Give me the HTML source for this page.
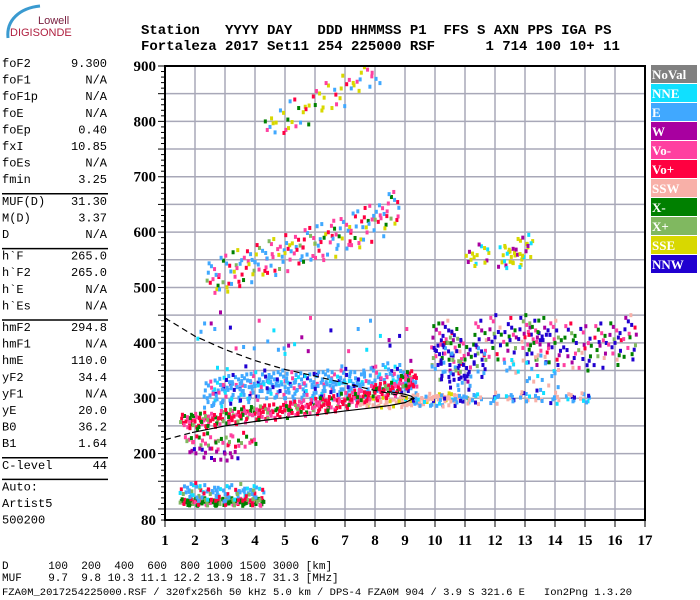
<!DOCTYPE html>
<html><head><meta charset="utf-8"><style>
html,body{margin:0;padding:0;background:#fff;width:700px;height:600px;overflow:hidden}
svg{display:block}
.mono{font-family:"Liberation Mono",monospace;font-size:12px;fill:#000}
.hdr{font-family:"Liberation Mono",monospace;font-size:14px;font-weight:bold;fill:#000}
.tick{font-family:"Liberation Serif",serif;font-size:15px;font-weight:bold;fill:#000}
.leg{font-family:"Liberation Serif",serif;font-size:13px;font-weight:bold;fill:#fff}
</style></head><body>
<svg id="chart" width="700" height="600" viewBox="0 0 700 600">
<g>
<path d="M8,38 C6,20 20,8 40,6" stroke="#3a9ad0" stroke-width="3" fill="none"/>
<text x="38" y="24" style="font-family:'Liberation Sans',sans-serif;font-size:11px;fill:#7a2040">Lowell</text>
<text x="10" y="36" style="font-family:'Liberation Sans',sans-serif;font-size:11px;fill:#b02040">DIGISONDE</text>
</g>
<g>
<text class="hdr" x="141" y="34" xml:space="preserve">Station   YYYY DAY   DDD HHMMSS P1  FFS S AXN PPS IGA PS</text>
<text class="hdr" x="141" y="50" xml:space="preserve">Fortaleza 2017 Set11 254 225000 RSF      1 714 100 10+ 11</text>
</g>
<g id="params"></g>
<g id="grid"></g>
<g id="marks"></g>
<g id="curves"></g>
<g id="axes"></g>
<g id="legend"></g>
<g>
<text class="mono" x="2" y="569" xml:space="preserve" style="font-size:11px">D      100  200  400  600  800 1000 1500 3000 [km]</text>
<text class="mono" x="2" y="581" xml:space="preserve" style="font-size:11px">MUF    9.7  9.8 10.3 11.1 12.2 13.9 18.7 31.3 [MHz]</text>
<text class="mono" x="2" y="595" xml:space="preserve" style="font-size:10.5px">FZA0M_2017254225000.RSF / 320fx256h 50 kHz 5.0 km / DPS-4 FZA0M 904 / 3.9 S 321.6 E   Ion2Png 1.3.20</text>
</g>
</svg>
<script>
const xTicks=[1,2,3,4,5,6,7,8,9,10,11,12,13,14,15,16,17];
const yTicks=[80,200,300,400,500,600,700,800,900];
const yGrid=[100,150,200,250,300,350,400,450,500,550,600,650,700,750,800,850];
const legendNames=["NoVal","NNE","E","W","Vo-","Vo+","SSW","X-","X+","SSE","NNW"];
const legendColors=["#808080","#10e0ff","#40a8ff","#a800a0","#ff40a0","#ff0040","#f8b0a8","#008000","#80b860","#d8d800","#2000d0"];
const paramNames=["foF2","foF1","foF1p","foE","foEp","fxI","foEs","fmin","|","MUF(D)","M(D)","D","|","h`F","h`F2","h`E","h`Es","|","hmF2","hmF1","hmE","yF2","yF1","yE","B0","B1","|","C-level","|","Auto:","Artist5","500200"];
const paramVals=["9.300","N/A","N/A","N/A","0.40","10.85","N/A","3.25","","31.30","3.37","N/A","","265.0","265.0","N/A","N/A","","294.8","N/A","110.0","34.4","N/A","20.0","36.2","1.64","","44","","","",""];
// echo traces: frequency (MHz), virtual height (km), colour index per point
const fTraceF=[1.7,2,2.3,2.6,3,3.3,3.6,4,4.3,4.6,5,5.3,5.6,6,6.3,6.6,7,7.3,7.6,8,8.3,8.6,9,9.2];
const fTraceH=[258,258,260,262,265,267,270,272,273,275,278,280,282,285,288,290,296,300,303,310,314,318,328,335];
const fTraceC=[5,4,5,7,5,4,5,7,5,8,4,5,7,4,5,8,5,4,5,7,4,5,4,5];
const eCloudF=[2.5,2.8,3.1,3.4,3.7,4,4.3,4.6,4.9,5.2,5.5,5.8,6.1,6.4,6.7,7,7.3,7.6,8,8.4,8.8,9.2];
const eCloudH=[305,310,315,320,318,322,325,320,325,322,320,318,322,325,325,328,322,325,332,338,335,318];
const sparseF=[2.2,2.6,3,3.4,3.8,4.2,4.6,5,5.5,6,6.5,7,7.5,8,8.5,9];
const sparseH=[420,390,400,380,370,395,360,380,375,390,360,370,380,385,395,390];
const hop2F=[2.6,3,3.4,3.8,4.2,4.6,5,5.4,5.8,6.2,6.6,7,7.4,7.8,8.2,8.6];
const hop2H=[515,525,535,542,548,555,562,568,575,582,588,595,605,615,625,640];
const hop2C=[4,2,5,7,2,4,9,2,5,8,4,2,9,5,2,4];
const hop3F=[4.5,4.9,5.3,5.7,6.1,6.5,6.9,7.3,7.7,8.1];
const hop3H=[790,800,812,822,835,845,855,865,878,890];
const hop3C=[2,9,4,2,7,9,5,9,9,4];
const esF=[1.7,2,2.3,2.6,2.9,3.2,3.5,3.8,4.1];
const esH=[112,112,113,112,112,113,112,112,112];
const es2H=[130,132,128,130,125,128,130,126,128];
const lowF=[1.8,2.1,2.4,2.7,3,3.3,3.6,3.9];
const lowH=[225,222,224,220,222,222,225,222];
const wF=[1.9,2.2,2.6,3,3.3];
const wH=[205,200,198,200,196];
const sporF=[10.1,10.4,10.7,11,11.5,12,12.5,13,13.3,13.6,14,14.5,15,15.5,16,16.5];
const sporH=[395,400,385,370,400,410,405,410,400,405,400,395,390,395,400,410];
const sporC=[10,10,10,10,3,4,7,3,5,4,6,7,10,4,7,8];
const blueBlockF=[12.5,13,13.5,14];
const blueBlockH=[355,350,352,345];
const xtrF=[9.4,9.8,10.2,10.6,11,11.4,12,12.5,13,13.5,14,14.5,15];
const xtrH=[292,294,295,296,296,297,300,300,302,305,300,300,300];
const yellowF=[11.2,11.6,12.3,12.5,12.7,12.9,13.1];
const yellowH=[550,560,555,565,548,570,575];
const trailingF=[7.6,8,8.4,8.8,9,9.4,9.8,10.2,10.6];
const trailingH=[290,292,292,294,295,296,298,300,300];
// ordinary-trace model (solid) and extrapolation (dashed)
const solidF=[1.9,3,4,5,6,7,7.8,8.5,9,9.3,9.2,9,8.7,8.4];
const solidH=[238,250,258,265,270,277,282,287,292,300,304,307,310,312];
const dashF=[1,2,3,4,5,6,7,8,9,9.3];
const dashH=[445,412,388,368,352,340,327,314,303,298];

const X0=165,PXF=30,Y0=66,PXH=0.5537;
const xs=f=>X0+(f-1)*PXF;
const ys=h=>Y0+(900-h)*PXH;
const NS="http://www.w3.org/2000/svg";
function mk(tag,parent,attrs){const e=document.createElementNS(NS,tag);for(const k in attrs)e.setAttribute(k,attrs[k]);parent.appendChild(e);return e;}

const P=document.getElementById('params');
let py=67;
paramNames.forEach((n,i)=>{
  if(n==="|"){const l=mk('line',P,{x1:2,x2:108,y1:py-6,y2:py-6,stroke:'#000','stroke-width':1.5});
    
    
    py+=5;return;}
  const t=mk('text',P,{x:2,y:py,class:'mono'});t.textContent=n;
  
  
  if(paramVals[i]){const v=mk('text',P,{x:107,y:py,class:'mono','text-anchor':'end'});v.textContent=paramVals[i];
    
    }
  py+=16.6;
});

const G=document.getElementById('grid');
xTicks.forEach(f=>{if(f>1&&f<17){const l=mk('line',G,{x1:xs(f),x2:xs(f),y1:66,y2:520,stroke:'#a8a8b8','stroke-width':1.5});
  
  }});
yGrid.forEach(h=>{const l=mk('line',G,{x1:X0,x2:xs(17),y1:ys(h),y2:ys(h),stroke:'#a8a8b8','stroke-width':1.5});
  
  });

const M=document.getElementById('marks');
const jit=[[0,0],[0.08,6],[-0.07,-5],[0.13,-9],[-0.12,9],[0.04,14],[0.1,-14],[-0.04,18],[0.15,3],[-0.15,-2],
 [0.05,-19],[-0.1,22],[0.12,11],[-0.05,-12],[0.02,25],[-0.14,-22],[0.07,-25],[-0.02,4]];
function dot(f,h,c){if(f<1||f>17||h<80||h>900)return;const r=mk('rect',M,{x:xs(f)-1.5,y:ys(h)-2,width:3,height:4,fill:legendColors[c]});
  
  }
function trace(F,H,C,n,sc,fixedC,fs){fs=fs||1;F.forEach((f,i)=>{for(let k=0;k<n;k++){const j=jit[(k+i*5)%jit.length];
  const c=fixedC?(fixedC[(k+i)%fixedC.length]):C[(i+k)%C.length];
  dot(f+j[0]*fs,H[i]+j[1]*sc,c);}});}
trace(sparseF,sparseH,null,3,2.5,[2,2,1,3,10,4],1.5);
trace(eCloudF,eCloudH,null,16,1.0,[2,2,2,1,2,4,2,2,10],1.3);
trace(trailingF,trailingH,null,10,0.4,[6,6,6,9],1.3);
trace(fTraceF,fTraceH,fTraceC,14,0.55,null,1.2);
trace(lowF,lowH,null,5,0.5,[4,7,8,5,4]);
trace(wF,wH,null,4,0.5,[3,10,3,3]);
trace(hop2F,hop2H,hop2C,12,1.3,null,1.3);
trace(hop3F,hop3H,hop3C,6,1.1,null,1.3);
trace(esF,esH,null,14,0.25,[7,5,4,8,7,7],1.3);
trace(esF,es2H,null,10,0.6,[2,2,8,1,5,2],1.3);
trace(sporF,sporH,sporC,16,1.6,null,1.4);
trace(sporF.slice(0,5),sporH.slice(0,5).map(h=>h-35),null,12,1.4,[10,10,2,2,8,10],1.3);
trace(blueBlockF,blueBlockH,null,6,1.0,[2,1,2,6],1.5);
trace(xtrF,xtrH,null,8,0.4,[2,6,2,6,10,1,2]);
trace(yellowF,yellowH,null,8,0.8,[9,9,3,1,9],1.3);

const C=document.getElementById('curves');
const pts=(F,H)=>F.map((f,i)=>xs(f)+','+ys(H[i])).join(' ');
const s=mk('polyline',C,{points:pts(solidF,solidH),fill:'none',stroke:'#000','stroke-width':1.2});


const d=mk('polyline',C,{points:pts(dashF,dashH),fill:'none',stroke:'#000','stroke-width':1.2,'stroke-dasharray':'6,4'});


const d2=mk('line',C,{x1:xs(1),y1:ys(225),x2:xs(1.9),y2:ys(238),stroke:'#000','stroke-width':1.2,'stroke-dasharray':'6,4'});



const A=document.getElementById('axes');
const fr=mk('rect',A,{x:X0,y:66,width:xs(17)-X0,height:454,fill:'none',stroke:'#000','stroke-width':2});


for(let h=80;h<=900;h+=10){mk('line',A,{x1:X0-(h%50===0?7:4),x2:X0,y1:ys(h),y2:ys(h),stroke:'#000','stroke-width':1});}
yTicks.forEach(h=>{const t=mk('text',A,{x:156,y:ys(h)+5,class:'tick','text-anchor':'end'});t.textContent=h;
  
  });
xTicks.forEach(f=>{mk('line',A,{x1:xs(f),x2:xs(f),y1:520,y2:527,stroke:'#000'});
  const t=mk('text',A,{x:xs(f),y:545,class:'tick','text-anchor':'middle'});t.textContent=f;
  
  });

const L=document.getElementById('legend');
legendNames.forEach((n,i)=>{const y=65+i*19;
  const r=mk('rect',L,{x:651,y:y,width:46,height:18,fill:legendColors[i]});
  
  
  const t=mk('text',L,{x:652,y:y+14,class:'leg'});t.textContent=n;
  
  });
</script>
</body></html>
